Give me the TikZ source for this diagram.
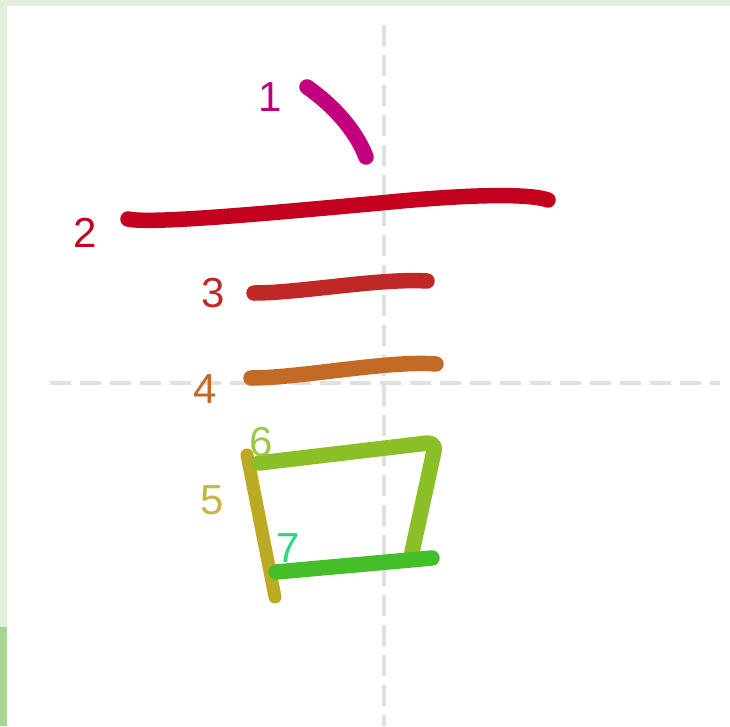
\documentclass[tikz,border=0pt]{standalone}
\usepackage{fontspec}
\setmainfont{Liberation Sans}
\usepackage{xcolor}
\definecolor{leafpale}{HTML}{E3EFDA}
\definecolor{leafdark}{HTML}{A8D590}
\definecolor{guidegray}{HTML}{E0E0E0}
\definecolor{strokeA}{HTML}{C2007E}
\definecolor{strokeB}{HTML}{C3001E}
\definecolor{strokeC}{HTML}{C02828}
\definecolor{strokeD}{HTML}{C26A26}
\definecolor{strokeE}{HTML}{BBAA22}
\definecolor{strokeF}{HTML}{8ABF28}
\definecolor{strokeG}{HTML}{44BF2A}

\begin{document}
\begin{tikzpicture}[
    x=1pt, y=-1pt,
    brush/.style={line width=15.5pt, line cap=round, line join=round},
    guide/.style={line width=4.5pt, color=guidegray, dash pattern=on 21pt off 9pt},
    num/.style={font=\fontsize{42}{42}\selectfont, inner sep=0pt}
  ]
    \useasboundingbox (0,0) rectangle (730,726);
    % page frame
    \fill[leafpale] (0,0) rectangle (730,726);
    \fill[leafdark] (0,627) rectangle (7,726);
    \fill[white] (7,6) rectangle (730,726);

    % guide cross
    \draw[guide] (50,383) -- (720,383);
    \draw[guide] (384,25) -- (384,726);

    % strokes
    \draw[brush, strokeA] (307,87) .. controls (330,103) and (355,128) .. (366,157);
    \draw[brush, strokeB] (128,219) .. controls (150,224) and (260,214) .. (380,203)
                          .. controls (450,196) and (525,192) .. (548,200);
    \draw[brush, strokeC] (254,293) .. controls (300,293) and (380,278) .. (427,281);
    \draw[brush, strokeD] (251,378) .. controls (300,378) and (390,360) .. (436,364);
    \draw[brush, line width=13pt, strokeE] (247,455) -- (275,597);
    \draw[brush, strokeF, rounded corners=9pt] (259,463) -- (436,442) -- (412,552);
    \draw[brush, strokeG] (276,572) -- (432,558);

    % stroke numbers
    \node[num, text=strokeA!90!violet] (n1) at (270,97)  {1};
    \node[num, text=strokeB]           (n2) at (85,233)  {2};
    \node[num, text=strokeC]           (n3) at (213,293) {3};
    \node[num, text=strokeD]           (n4) at (205,389) {4};
    \node[num, text=strokeE!85!white]  (n5) at (212,500) {5};
    \node[num, text=strokeF!85!white]  (n6) at (261,442) {6};
    \node[num, text=strokeG!60!cyan]   (n7) at (288,548) {7};
  \end{tikzpicture}
\end{document}
